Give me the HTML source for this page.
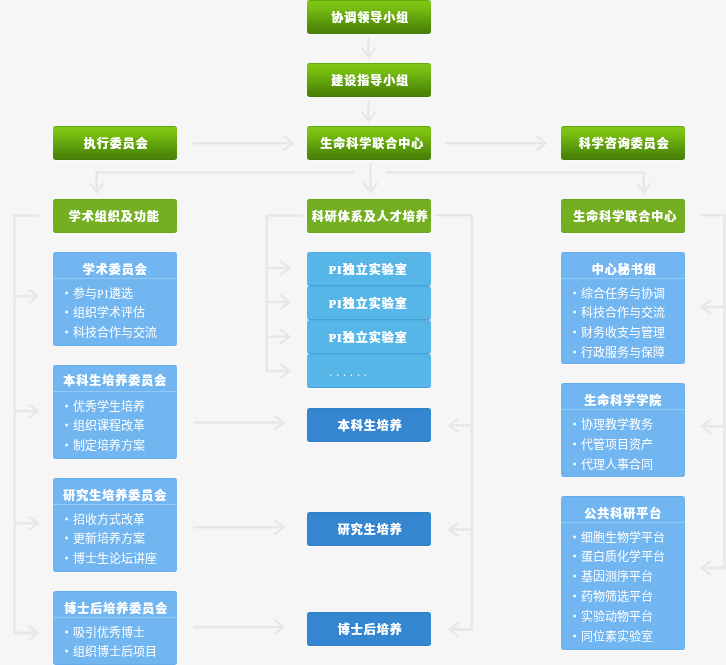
<!DOCTYPE html>
<html lang="zh-CN"><head><meta charset="utf-8"><title>组织结构</title>
<style>
html,body{margin:0;padding:0;}
body{width:726px;height:665px;overflow:hidden;background:#f6f6f6;position:relative;
 font-family:"Liberation Serif","Noto Sans CJK SC",sans-serif;font-size:12px;color:#fff;}
.b{position:absolute;width:124px;height:34px;box-sizing:border-box;border-radius:3px;
 text-align:center;font-weight:bold;line-height:34px;letter-spacing:1px;white-space:nowrap;text-shadow:0.5px 0 0 #fff;box-shadow:0 1px 0 #fcfcfc;}
.b span{position:relative;display:inline-block;}
#w{position:absolute;left:0;top:0;width:726px;height:665px;will-change:transform;}
.g1{background:linear-gradient(#7fc714 0%,#78bd12 22%,#5f9f0c 58%,#4e8908 86%,#4a8207 100%);
 border-top:1px solid #63ac10;border-bottom:1px solid #44790a;line-height:32px;}
.g2{background:#74af22;border-top:1px solid #69a51a;border-bottom:1px solid #69a51a;line-height:32px;}
.p{background:#57b6e8;border-top:1px solid #4faee3;border-bottom:1px solid #45a0dc;line-height:32px;}
.d{background:#3486d0;border-top:1px solid #2f80ca;border-bottom:1px solid #2e7cc6;line-height:32px;}
.k{position:absolute;width:124px;box-sizing:border-box;background:#71b5f1;border-radius:3px;box-shadow:0 1px 0 #fcfcfc;
 border-top:1px solid #67adec;border-bottom:1px solid #67adec;}
.k h3{position:absolute;left:0;top:0;width:124px;height:26px;margin:0;font-size:12px;font-weight:bold;
 line-height:34px;text-align:center;letter-spacing:1px;white-space:nowrap;text-shadow:0.5px 0 0 #fff;border-bottom:1px solid #94c9f6;box-sizing:border-box;}
.k h3 span{position:relative;display:inline-block;}
.k ul{margin:0;padding:0;list-style:none;}
.k li{position:absolute;left:8px;height:20px;line-height:20px;white-space:nowrap;font-weight:normal;}
.k li i{font-style:normal;font-weight:bold;display:inline-block;width:12px;text-align:center;position:relative;top:-1px;-webkit-text-stroke:0.5px #fff;
 font-family:"Liberation Sans","Noto Sans CJK SC",sans-serif;}
.k li b{font-weight:normal;letter-spacing:0.7px;}
svg{position:absolute;left:0;top:0;}
</style></head><body>
<svg width="726" height="665" viewBox="0 0 726 665" fill="none" stroke="#e7e7e7" stroke-width="2.5" stroke-linejoin="miter" stroke-linecap="butt">
<path d="M368.5 37.5 L368.5 56.3"/>
<path d="M361.5 47.6 L368.5 56.8 L375.5 47.6" stroke-width="2.2"/>
<path d="M368.5 101 L368.5 120.3"/>
<path d="M361.5 111.6 L368.5 120.8 L375.5 111.6" stroke-width="2.2"/>
<path d="M370.5 162.5 L370.5 191.5"/>
<path d="M363.5 182.8 L370.5 192 L377.5 182.8" stroke-width="2.2"/>
<path d="M192.5 143.2 L292.4 143.2"/>
<path d="M283.7 136.2 L292.9 143.2 L283.7 150.2" stroke-width="2.2"/>
<path d="M445.5 143.2 L545.2 143.2"/>
<path d="M536.5 136.2 L545.7 143.2 L536.5 150.2" stroke-width="2.2"/>
<path d="M355 172.5 L96.7 172.5 L96.7 192"/>
<path d="M89.7 183 L96.7 192.2 L103.7 183" stroke-width="2.2"/>
<path d="M386 172.5 L643.7 172.5 L643.7 192"/>
<path d="M636.7 183 L643.7 192.2 L650.7 183" stroke-width="2.2"/>
<path d="M39 215.5 L14.5 215.5 L14.5 633 L37 633"/>
<path d="M14.5 296.3 L37 296.3"/>
<path d="M28.5 289.3 L37.7 296.3 L28.5 303.3" stroke-width="2.2"/>
<path d="M14.5 411.2 L37 411.2"/>
<path d="M28.5 404.2 L37.7 411.2 L28.5 418.2" stroke-width="2.2"/>
<path d="M14.5 523.3 L37 523.3"/>
<path d="M28.5 516.3 L37.7 523.3 L28.5 530.3" stroke-width="2.2"/>
<path d="M14.5 633 L37 633"/>
<path d="M28.5 626 L37.7 633 L28.5 640" stroke-width="2.2"/>
<path d="M303 215.5 L266.8 215.5 L266.8 371.1 L289 371.1"/>
<path d="M266.8 268 L289 268"/>
<path d="M280.3 261 L289.5 268 L280.3 275" stroke-width="2.2"/>
<path d="M266.8 302 L289 302"/>
<path d="M280.3 295 L289.5 302 L280.3 309" stroke-width="2.2"/>
<path d="M266.8 336.6 L289 336.6"/>
<path d="M280.3 329.6 L289.5 336.6 L280.3 343.6" stroke-width="2.2"/>
<path d="M266.8 371.1 L289 371.1"/>
<path d="M280.3 364.1 L289.5 371.1 L280.3 378.1" stroke-width="2.2"/>
<path d="M193.3 422.5 L283.2 422.5"/>
<path d="M274.5 415.5 L283.7 422.5 L274.5 429.5" stroke-width="2.2"/>
<path d="M193.3 527.3 L283.2 527.3"/>
<path d="M274.5 520.3 L283.7 527.3 L274.5 534.3" stroke-width="2.2"/>
<path d="M193.3 627.2 L283.2 627.2"/>
<path d="M274.5 620.2 L283.7 627.2 L274.5 634.2" stroke-width="2.2"/>
<path d="M435 215.3 L471.7 215.3 L471.7 629.5 L450 629.5"/>
<path d="M471.7 425.4 L450 425.4"/>
<path d="M458.7 418.4 L449.5 425.4 L458.7 432.4" stroke-width="2.2"/>
<path d="M471.7 529.5 L450 529.5"/>
<path d="M458.7 522.5 L449.5 529.5 L458.7 536.5" stroke-width="2.2"/>
<path d="M471.7 629.5 L450 629.5"/>
<path d="M458.7 622.5 L449.5 629.5 L458.7 636.5" stroke-width="2.2"/>
<path d="M700 215.3 L724.5 215.3 L724.5 568 L702 568"/>
<path d="M724.5 307 L702 307"/>
<path d="M710.9 300 L701.7 307 L710.9 314" stroke-width="2.2"/>
<path d="M724.5 426.3 L702 426.3"/>
<path d="M710.9 419.3 L701.7 426.3 L710.9 433.3" stroke-width="2.2"/>
<path d="M724.5 568 L702 568"/>
<path d="M710.9 561 L701.7 568 L710.9 575" stroke-width="2.2"/>
</svg>
<div id="w">
<div class="b g1" style="left:307px;top:0px"><span style="left:1px;top:1px">协调领导小组</span></div>
<div class="b g1" style="left:307px;top:63px"><span style="left:1px;top:1px">建设指导小组</span></div>
<div class="b g1" style="left:307px;top:126px"><span style="left:3px;top:1px">生命科学联合中心</span></div>
<div class="b g2" style="left:307px;top:199px"><span style="left:1px;top:1px">科研体系及人才培养</span></div>
<div class="b g1" style="left:53px;top:126px"><span style="left:1px;top:1px">执行委员会</span></div>
<div class="b g1" style="left:561px;top:126px"><span style="left:1px;top:1px">科学咨询委员会</span></div>
<div class="b g2" style="left:53px;top:199px"><span style="left:-1px;top:1px">学术组织及功能</span></div>
<div class="b g2" style="left:561px;top:199px"><span style="left:2px;top:1px">生命科学联合中心</span></div>
<div class="b p" style="left:307px;top:252px"><span style="left:-1px;top:1px">PI独立实验室</span></div>
<div class="b p" style="left:307px;top:286px"><span style="left:-1px;top:1px">PI独立实验室</span></div>
<div class="b p" style="left:307px;top:320px"><span style="left:-1px;top:1px">PI独立实验室</span></div>
<div class="b p" style="left:307px;top:354px"><span style="left:0px;top:0px"><span style="letter-spacing:3.9px;font-weight:normal;text-shadow:none;position:relative;left:-19px;top:0.5px">......</span></span></div>
<div class="b d" style="left:307px;top:408px"><span style="left:1px;top:1px">本科生培养</span></div>
<div class="b d" style="left:307px;top:512px"><span style="left:1px;top:1px">研究生培养</span></div>
<div class="b d" style="left:307px;top:612px"><span style="left:1px;top:1px">博士后培养</span></div>
<div class="k" style="left:53px;top:252px;height:94px"><h3><span style="left:0px;top:0px">学术委员会</span></h3><ul><li style="top:31px"><i>·</i>参与<b>PI</b>遴选</li><li style="top:50px"><i>·</i>组织学术评估</li><li style="top:70px"><i>·</i>科技合作与交流</li></ul></div>
<div class="k" style="left:53px;top:365px;height:94px"><h3><span style="left:0px;top:-2px">本科生培养委员会</span></h3><ul><li style="top:31px"><i>·</i>优秀学生培养</li><li style="top:50px"><i>·</i>组织课程改革</li><li style="top:70px"><i>·</i>制定培养方案</li></ul></div>
<div class="k" style="left:53px;top:478px;height:94px"><h3><span style="left:0px;top:0px">研究生培养委员会</span></h3><ul><li style="top:31px"><i>·</i>招收方式改革</li><li style="top:50px"><i>·</i>更新培养方案</li><li style="top:70px"><i>·</i>博士生论坛讲座</li></ul></div>
<div class="k" style="left:53px;top:591px;height:74px"><h3><span style="left:1px;top:0px">博士后培养委员会</span></h3><ul><li style="top:31px"><i>·</i>吸引优秀博士</li><li style="top:50px"><i>·</i>组织博士后项目</li></ul></div>
<div class="k" style="left:561px;top:252px;height:112px"><h3><span style="left:1px;top:0px">中心秘书组</span></h3><ul><li style="top:31px"><i>·</i>综合任务与协调</li><li style="top:50px"><i>·</i>科技合作与交流</li><li style="top:70px"><i>·</i>财务收支与管理</li><li style="top:90px"><i>·</i>行政服务与保障</li></ul></div>
<div class="k" style="left:561px;top:383px;height:94px"><h3><span style="left:0px;top:0px">生命科学学院</span></h3><ul><li style="top:31px"><i>·</i>协理教学教务</li><li style="top:51px"><i>·</i>代管项目资产</li><li style="top:71px"><i>·</i>代理人事合同</li></ul></div>
<div class="k" style="left:561px;top:496px;height:154px"><h3><span style="left:0px;top:0px">公共科研平台</span></h3><ul><li style="top:31px"><i>·</i>细胞生物学平台</li><li style="top:50px"><i>·</i>蛋白质化学平台</li><li style="top:70px"><i>·</i>基因测序平台</li><li style="top:90px"><i>·</i>药物筛选平台</li><li style="top:110px"><i>·</i>实验动物平台</li><li style="top:130px"><i>·</i>同位素实验室</li></ul></div>
</div>
</body></html>
